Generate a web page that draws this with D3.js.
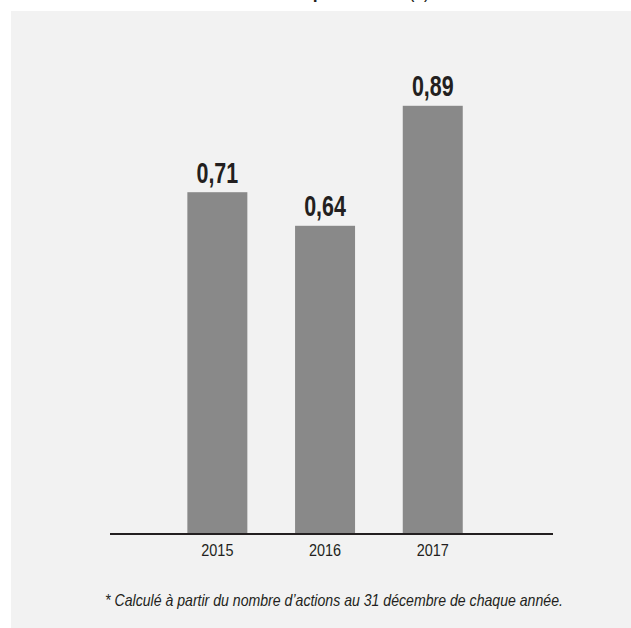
<!DOCTYPE html>
<html><head><meta charset="utf-8">
<script src="https://cdn.jsdelivr.net/npm/d3@7"></script>
<style>
html,body{margin:0;padding:0;background:#fff;overflow:hidden;}
svg{display:block;}
</style></head>
<body>
<script>
const years = ["2015", "2016", "2017"];
const values = [0.71, 0.64, 0.89];
const valueLabels = ["0,71", "0,64", "0,89"];
const footnote = "* Calculé à partir du nombre d’actions au 31 décembre de chaque année.";
const titleNormal = "Bénéfice net ";
const titleBold = "par action*";
const titleUnit = " (€)";

const W = 631, H = 628;
const svg = d3.select("body").append("svg").attr("width", W).attr("height", H);

svg.append("rect").attr("x", 11).attr("y", 11).attr("width", W - 11).attr("height", H - 11).attr("fill", "#f2f2f2");

const font = "'Liberation Sans', Arial, sans-serif";
const ink = "#231f20";

// condensed text helper: horizontally scaled text
function condText(cx, cy, sx) {
  return svg.append("g").attr("transform", `translate(${cx},${cy}) scale(${sx},1)`)
    .append("text").attr("x", 0).attr("y", 0).attr("text-anchor", "middle")
    .attr("font-family", font).attr("fill", ink);
}

// title (mostly above the visible area, as in reference)
const t = condText(320, -3, 0.8).attr("font-size", 22);
t.append("tspan").text(titleNormal);
t.append("tspan").attr("font-weight", "bold").text(titleBold);
t.append("tspan").text(titleUnit);

const x = d3.scaleBand().domain(years).range([133.5, 516.6]).paddingInner(0.443).paddingOuter(0.5);
const y = d3.scaleLinear().domain([0, 1]).range([533, 53]);

svg.selectAll("rect.bar").data(values).join("rect").attr("class", "bar")
  .attr("x", (d, i) => x(years[i])).attr("width", x.bandwidth())
  .attr("y", d => y(d)).attr("height", d => y(0) - y(d))
  .attr("fill", "#898989");

values.forEach((d, i) => {
  condText(x(years[i]) + x.bandwidth() / 2, y(d) - 9.5, 0.74)
    .attr("font-weight", "bold").attr("font-size", 29).text(valueLabels[i]);
});

// axis
const axis = d3.axisBottom(x).tickSize(0).tickPadding(10);
const ax = svg.append("g").attr("transform", `translate(0,${y(0)})`).call(axis);
ax.select(".domain").remove();
ax.selectAll(".tick text").attr("font-family", font).attr("font-size", 17).attr("fill", ink)
  .attr("y", 0).attr("dy", 0)
  .attr("transform", "translate(0,23) scale(0.85,1)");
svg.append("line").attr("x1", 110).attr("x2", 553).attr("y1", y(0) + 1).attr("y2", y(0) + 1)
  .attr("stroke", ink).attr("stroke-width", 2);

const fn = condText(334, 606, 1).attr("font-style", "italic").attr("font-size", 16).text(footnote);
const len = fn.node().getComputedTextLength();
d3.select(fn.node().parentNode).attr("transform", `translate(334,606) scale(${458 / len},1)`);
</script>
</body></html>
